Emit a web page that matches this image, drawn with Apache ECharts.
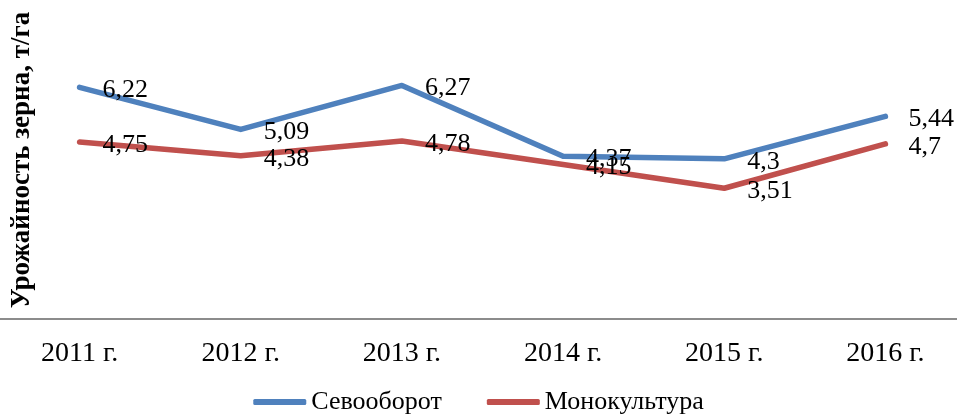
<!DOCTYPE html>
<html>
<head>
<meta charset="utf-8">
<script src="https://cdn.jsdelivr.net/npm/echarts@6/dist/echarts.min.js"></script>
<style>
html,body{margin:0;padding:0;background:#fff;}
#chart{width:957px;height:414px;}
</style>
</head>
<body>
<div id="chart"></div>
<script>
var categories = ['2011 г.', '2012 г.', '2013 г.', '2014 г.', '2015 г.', '2016 г.'];
var seriesNames = ['Севооборот', 'Монокультура'];
var sevooborot = [6.22, 5.09, 6.27, 4.37, 4.3, 5.44];
var monokultura = [4.75, 4.38, 4.78, 4.15, 3.51, 4.7];
var yTitle = 'Урожайность зерна, т/га';

var FONT = '"Liberation Serif", "Times New Roman", serif';
var chart = echarts.init(document.getElementById('chart'));

function fmt(v) { return String(v).replace('.', ','); }

function mkSeries(name, data, color) {
  return {
    name: name,
    type: 'line',
    data: data,
    symbol: 'circle',
    symbolSize: 2,
    showSymbol: true,
    itemStyle: { color: 'rgba(0,0,0,0)' },
    lineStyle: { color: color, width: 5.5, cap: 'round', join: 'round' },
    label: {
      show: true,
      position: 'right',
      distance: 22,
      offset: [0, 3],
      color: '#000',
      fontFamily: FONT,
      fontSize: 26,
      formatter: function (p) { return fmt(p.value); }
    },
    emphasis: { disabled: true },
    animation: false
  };
}

chart.setOption({
  animation: false,
  backgroundColor: '#fff',
  grid: { left: -1, width: 967, top: 21, height: 298, containLabel: false, outerBoundsMode: 'none' },
  xAxis: {
    type: 'category',
    data: categories,
    boundaryGap: true,
    axisLine: { show: true, lineStyle: { color: '#8c8c8c', width: 2 } },
    axisTick: { show: false },
    axisLabel: { color: '#000', fontFamily: FONT, fontSize: 28, margin: 21 }
  },
  yAxis: {
    type: 'value',
    min: 0,
    max: 8,
    interval: 1,
    axisLine: { show: false },
    axisTick: { show: false },
    axisLabel: { show: false },
    splitLine: { show: false }
  },
  legend: {
    data: [
      { name: seriesNames[0], itemStyle: { color: '#4F81BD' } },
      { name: seriesNames[1], itemStyle: { color: '#C0504D' } }
    ],
    left: 'center',
    top: 384,
    icon: 'roundRect',
    itemWidth: 53,
    itemHeight: 6,
    itemGap: 45,
    textStyle: { color: '#000', fontFamily: FONT, fontSize: 26 }
  },
  graphic: [{
    type: 'text',
    x: 22,
    y: 160,
    rotation: Math.PI / 2,
    style: {
      text: yTitle,
      fill: '#000',
      font: 'bold 27px ' + FONT,
      textAlign: 'center',
      textVerticalAlign: 'middle'
    }
  }],
  series: [
    mkSeries(seriesNames[0], sevooborot, '#4F81BD'),
    mkSeries(seriesNames[1], monokultura, '#C0504D')
  ]
});
</script>
</body>
</html>
